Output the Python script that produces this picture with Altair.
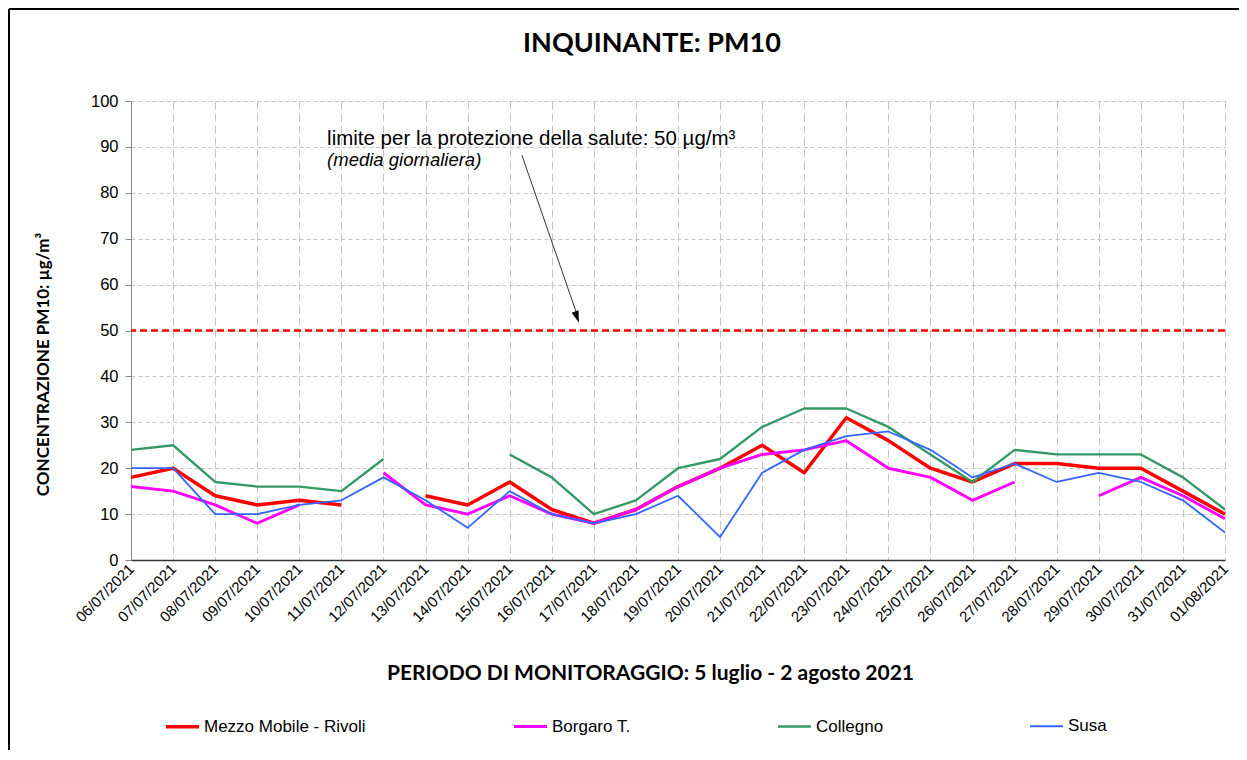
import json
import altair as alt
import pandas as pd

# ---------------- data ----------------
dates = ["06/07/2021", "07/07/2021", "08/07/2021", "09/07/2021", "10/07/2021",
         "11/07/2021", "12/07/2021", "13/07/2021", "14/07/2021", "15/07/2021",
         "16/07/2021", "17/07/2021", "18/07/2021", "19/07/2021", "20/07/2021",
         "21/07/2021", "22/07/2021", "23/07/2021", "24/07/2021", "25/07/2021",
         "26/07/2021", "27/07/2021", "28/07/2021", "29/07/2021", "30/07/2021",
         "31/07/2021", "01/08/2021"]

series_names = ["Mezzo Mobile - Rivoli", "Borgaro T.", "Collegno", "Susa"]

rivoli = [18, 20, 14, 12, 13, 12, None, 14, 12, 17, 11, 8, 11, 16, 20, 25, 19,
          31, 26, 20, 17, 21, 21, 20, 20, 15, 10]
borgaro = [16, 15, 12, 8, 12, None, 19, 12, 10, 14, 10, 8, 11, 16, 20, 23, 24,
           26, 20, 18, 13, 17, None, 14, 18, 14, 9]
collegno = [24, 25, 17, 16, 16, 15, 22, None, None, 23, 18, 10, 13, 20, 22, 29,
            33, 33, 29, 23, 17, 24, 23, 23, 23, 18, 11]
susa = [20, 20, 10, 10, 12, 13, 18, 13, 7, 15, 10, 8, 10, 14, 5, 19, 24, 27,
        28, 24, 18, 21, 17, 19, 17, 13, 6]

limit_value = [50]
y_ticks = list(range(0, 101, 10))

annot_main = ["limite per la protezione della salute: 50 µg/m³"]
annot_sub = ["(media giornaliera)"]

# ---------------- styles ----------------
series_colors = ["#ff0000", "#ff00ff", "#339966", "#3366ff"]
series_widths = [3.5, 1.8, 1.8, 1.8]

values_by_series = [rivoli, borgaro, collegno, susa]
rows = []
for name, vals in zip(series_names, values_by_series):
    for i, v in enumerate(vals):
        rows.append({"idx": i, "date": dates[i], "series": name, "value": v})
df = pd.DataFrame(rows)

label_expr = json.dumps(dates) + "[datum.value]"

x_enc = alt.X(
    "idx:Q",
    scale=alt.Scale(domain=[0, len(dates) - 1], nice=False, zero=False),
    axis=alt.Axis(
        values=list(range(len(dates))),
        labelExpr=label_expr,
        labelAngle=-45,
        labelAlign="right",
        labelBaseline="middle",
        labelFont="Liberation Sans",
        labelFontSize=15,
        labelColor="black",
        labelPadding=6,
        labelOverlap=False,
        labelFlush=False,
        ticks=False,
        domainColor="#333333",
        domainWidth=1.5,
        grid=True,
        gridColor="#c4c4c4",
        gridDash=[8, 4],
        gridWidth=1,
        title="PERIODO DI MONITORAGGIO: 5 luglio - 2 agosto 2021",
        titleFont="Lato",
        titleFontWeight="bold",
        titleFontSize=21,
        titleColor="black",
        titleX=519,
        titleY=113,
        titleAlign="center",
        titleBaseline="middle",
    ),
)

y_enc = alt.Y(
    "value:Q",
    scale=alt.Scale(domain=[0, 100], nice=False),
    axis=alt.Axis(
        values=y_ticks,
        labelFont="Liberation Sans",
        labelFontSize=16.5,
        labelColor="black",
        labelPadding=7,
        tickSize=6,
        tickColor="#888888",
        domainColor="#888888",
        grid=True,
        gridColor="#c4c4c4",
        gridDash=[4, 3],
        gridWidth=1,
        title="CONCENTRAZIONE PM10: µg/m³",
        titleFont="Lato",
        titleFontWeight="bold",
        titleFontSize=17,
        titleColor="black",
        titleAngle=270,
        titleX=-88,
        titleY=263,
        titleAlign="center",
        titleBaseline="middle",
    ),
)

color_enc = alt.Color(
    "series:N",
    scale=alt.Scale(domain=series_names, range=series_colors),
    legend=alt.Legend(title=None),
)
sw_enc = alt.StrokeWidth(
    "series:N",
    scale=alt.Scale(domain=series_names, range=series_widths),
    legend=alt.Legend(title=None),
)

base = alt.Chart(df)
layers = []

# limit line
limit_df = pd.DataFrame({"limit": limit_value})
limit_rule = alt.Chart(limit_df).mark_rule(
    color="#ff0000", strokeWidth=2.5, strokeDash=[7, 4]
).encode(y=alt.Y("limit:Q", scale=alt.Scale(domain=[0, 100], nice=False)))
layers.append(limit_rule)

for name in series_names:
    layers.append(
        base.transform_filter(alt.datum.series == name)
        .mark_line(invalid="break-paths-show-domains", strokeJoin="round")
        .encode(x=x_enc, y=y_enc, color=color_enc, strokeWidth=sw_enc)
    )

# annotation
ann_df = pd.DataFrame({"t1": annot_main, "t2": annot_sub})
ann1 = alt.Chart(ann_df).mark_text(
    align="left", baseline="alphabetic", font="Liberation Sans", fontSize=20.5,
    color="black"
).encode(x=alt.datum(4.66), y=alt.datum(90.4), text="t1:N")
ann2 = alt.Chart(ann_df).mark_text(
    align="left", baseline="alphabetic", font="Liberation Sans", fontSize=18.5,
    fontStyle="italic", color="black"
).encode(x=alt.datum(4.66), y=alt.datum(85.9), text="t2:N")
arrow_line = alt.Chart(ann_df).mark_rule(color="#333333", strokeWidth=1).encode(
    x=alt.datum(9.29), y=alt.datum(88.2), x2=alt.datum(10.58), y2=alt.datum(54.0)
)
arrow_head = alt.Chart(ann_df).mark_point(
    shape="M0,-1L0.6,1L-0.6,1Z", filled=True, color="black", opacity=1,
    size=144, angle=161
).encode(x=alt.datum(10.60), y=alt.datum(52.9))
layers += [ann1, ann2, arrow_line, arrow_head]

# frame of the chart area
frame_df = pd.DataFrame({"f": [1]})
frame_left = alt.Chart(frame_df).mark_rule(color="black", strokeWidth=2).encode(
    x=alt.value(-122), y=alt.value(-92), y2=alt.value(660)
)
frame_top = alt.Chart(frame_df).mark_rule(color="black", strokeWidth=2).encode(
    x=alt.value(-122), x2=alt.value(1110), y=alt.value(-92)
)
layers += [frame_left, frame_top]

chart = (
    alt.layer(*layers)
    .properties(
        width=1094,
        height=459,
        autosize=alt.AutoSizeParams(type="none"),
        padding={"left": 123, "top": 93, "right": 14, "bottom": 190},
        title=alt.TitleParams(
            "INQUINANTE: PM10",
            font="Lato",
            fontSize=27,
            fontWeight="bold",
            color="black",
            anchor="middle",
            frame="group",
            baseline="alphabetic",
            offset=0,
            dy=71,
            dx=-26,
        ),
    )
    .configure_view(stroke=None)
    .configure_legend(
        orient="none",
        legendX=33,
        legendY=607,
        direction="horizontal",
        columns=4,
        columnPadding=142,
        gridAlign="each",
        symbolType="stroke",
        symbolSize=1089,
        labelFont="Liberation Sans",
        labelFontSize=17,
        labelColor="black",
        labelOffset=3,
        labelLimit=400,
    )
)

chart.save("out.html", embed_options={"renderer": "svg", "actions": False})
